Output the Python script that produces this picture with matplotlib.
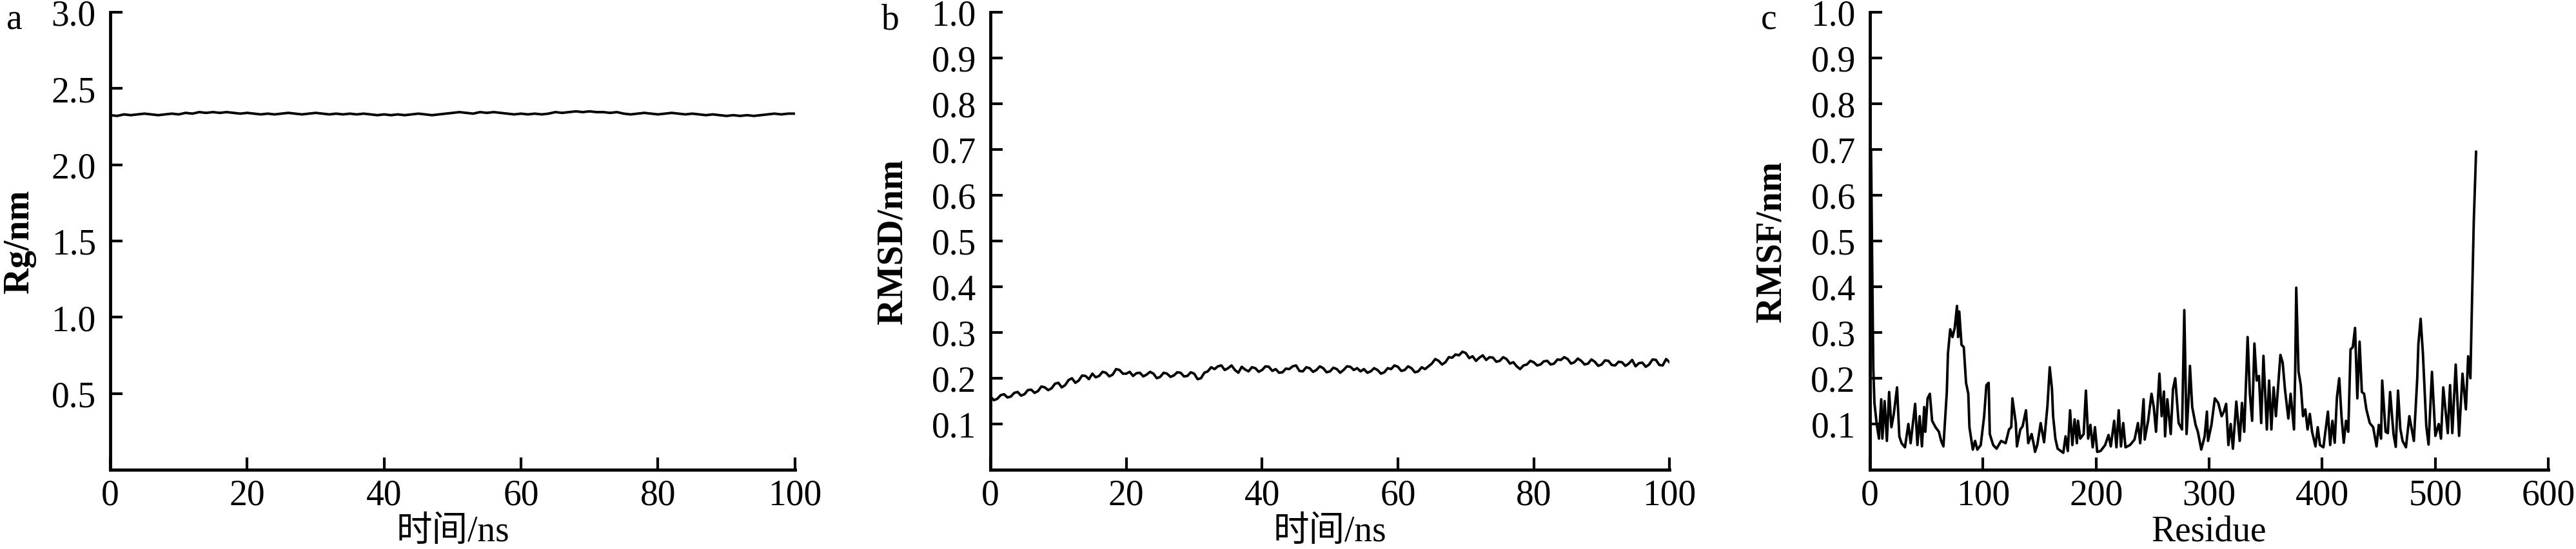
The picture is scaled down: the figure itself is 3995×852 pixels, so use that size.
import numpy as np
import matplotlib
matplotlib.use('Agg')
from matplotlib import pyplot as plt

# fonts: serif for latin text, CJK fallback for 时间
plt.rcParams['font.family'] = ['Liberation Serif', 'Noto Sans CJK SC']
plt.rcParams['font.size'] = 40

# ---- panel a : Rg over time (ns) ----
rg_time = list(range(0, 101))
rg_vals = [2.325, 2.32, 2.33, 2.325, 2.33, 2.335, 2.33, 2.325, 2.33, 2.335,
           2.33, 2.34, 2.335, 2.345, 2.34, 2.345, 2.34, 2.345, 2.34, 2.335,
           2.34, 2.335, 2.33, 2.335, 2.33, 2.335, 2.34, 2.335, 2.33, 2.335,
           2.34, 2.335, 2.33, 2.335, 2.33, 2.335, 2.33, 2.335, 2.33, 2.325,
           2.33, 2.325, 2.33, 2.325, 2.33, 2.335, 2.33, 2.325, 2.33, 2.335,
           2.34, 2.345, 2.34, 2.335, 2.345, 2.34, 2.345, 2.34, 2.335, 2.33,
           2.335, 2.33, 2.335, 2.33, 2.335, 2.345, 2.34, 2.345, 2.35, 2.345,
           2.35, 2.345, 2.345, 2.34, 2.345, 2.335, 2.33, 2.335, 2.34, 2.335,
           2.33, 2.335, 2.34, 2.335, 2.33, 2.335, 2.33, 2.325, 2.33, 2.325,
           2.32, 2.325, 2.32, 2.325, 2.32, 2.325, 2.33, 2.335, 2.33, 2.335,
           2.335]

# ---- panel b : RMSD over time (ns), every 0.5 ns ----
rmsd_time = [i * 0.5 for i in range(201)]
rmsd_vals = [0.160, 0.152, 0.155, 0.163, 0.165, 0.158, 0.160, 0.168, 0.170, 0.162,
             0.165, 0.174, 0.175, 0.168, 0.172, 0.182, 0.180, 0.174, 0.178, 0.188,
             0.190, 0.180, 0.185, 0.196, 0.200, 0.190, 0.195, 0.206, 0.205, 0.198,
             0.210, 0.202, 0.205, 0.214, 0.212, 0.204, 0.208, 0.220, 0.218, 0.210,
             0.210, 0.214, 0.205, 0.211, 0.212, 0.204, 0.208, 0.214, 0.210, 0.200,
             0.203, 0.212, 0.210, 0.203, 0.206, 0.213, 0.212, 0.204, 0.205, 0.213,
             0.210, 0.198, 0.200, 0.212, 0.215, 0.224, 0.220, 0.226, 0.228, 0.218,
             0.222, 0.228, 0.218, 0.212, 0.225, 0.219, 0.215, 0.224, 0.222, 0.214,
             0.218, 0.226, 0.225, 0.216, 0.220, 0.212, 0.213, 0.221, 0.220, 0.226,
             0.228, 0.216, 0.215, 0.224, 0.222, 0.214, 0.218, 0.226, 0.222, 0.213,
             0.215, 0.223, 0.220, 0.212, 0.218, 0.226, 0.225, 0.218, 0.222, 0.215,
             0.220, 0.212, 0.215, 0.222, 0.218, 0.210, 0.213, 0.222, 0.220, 0.228,
             0.225, 0.216, 0.218, 0.226, 0.222, 0.213, 0.215, 0.224, 0.220, 0.226,
             0.232, 0.242, 0.238, 0.230, 0.235, 0.246, 0.245, 0.252, 0.250, 0.258,
             0.255, 0.244, 0.248, 0.238, 0.245, 0.250, 0.240, 0.246, 0.245, 0.236,
             0.238, 0.246, 0.242, 0.232, 0.235, 0.226, 0.220, 0.228, 0.230, 0.238,
             0.235, 0.228, 0.230, 0.237, 0.238, 0.230, 0.232, 0.241, 0.240, 0.246,
             0.242, 0.232, 0.235, 0.243, 0.238, 0.230, 0.232, 0.241, 0.236, 0.227,
             0.230, 0.239, 0.238, 0.229, 0.228, 0.236, 0.235, 0.227, 0.232, 0.240,
             0.226, 0.233, 0.234, 0.225, 0.230, 0.241, 0.240, 0.229, 0.228, 0.242,
             0.235]

# ---- panel c : RMSF per residue ----
rmsf_res = [1, 2, 3, 4, 6, 8, 10, 11, 13, 15, 17, 19, 21, 24, 26, 28, 31, 34, 36, 40,
            42, 44, 46, 48, 49, 51, 53, 55, 58, 61, 63, 65, 68, 69, 71, 73, 75, 77, 78, 79,
            81, 83, 85, 87, 88, 91, 93, 95, 98, 101, 103, 105, 106, 109, 112, 116, 120, 123, 125, 126,
            129, 130, 133, 135, 138, 140, 143, 145, 146, 148, 151, 154, 157, 159, 161, 162, 164, 166, 171, 173,
            175, 177, 179, 181, 183, 184, 186, 189, 191, 193, 195, 197, 199, 201, 204, 208, 211, 213, 216, 218,
            220, 222, 224, 226, 230, 234, 237, 239, 242, 243, 246, 249, 251, 253, 256, 258, 260, 261, 263, 266,
            268, 270, 273, 276, 278, 280, 282, 283, 285, 288, 290, 293, 296, 298, 299, 302, 305, 308, 311, 313,
            315, 317, 319, 321, 324, 327, 329, 331, 334, 336, 338, 340, 342, 344, 346, 348, 351, 353, 355, 357,
            359, 361, 363, 365, 367, 370, 372, 375, 376, 377, 379, 381, 383, 385, 387, 389, 391, 394, 396, 398,
            401, 403, 405, 407, 409, 411, 413, 415, 417, 419, 421, 423, 425, 427, 429, 431, 433, 435, 437, 439,
            442, 445, 448, 450, 452, 453, 456, 458, 460, 463, 465, 467, 469, 471, 474, 477, 481, 484, 485, 487,
            489, 492, 494, 497, 500, 503, 505, 507, 511, 513, 515, 518, 521, 524, 527, 529, 531, 532, 534, 536]
rmsf_vals = [0.700, 0.450, 0.220, 0.146, 0.100, 0.068, 0.154, 0.068, 0.150, 0.063,
             0.170, 0.093, 0.120, 0.180, 0.073, 0.058, 0.049, 0.100, 0.058, 0.144,
             0.054, 0.117, 0.051, 0.137, 0.083, 0.156, 0.166, 0.107, 0.093, 0.083,
             0.063, 0.051, 0.170, 0.254, 0.307, 0.290, 0.310, 0.358, 0.290, 0.346,
             0.273, 0.268, 0.190, 0.166, 0.093, 0.044, 0.063, 0.044, 0.054, 0.117,
             0.185, 0.190, 0.078, 0.054, 0.046, 0.063, 0.058, 0.088, 0.093, 0.156,
             0.102, 0.051, 0.088, 0.095, 0.130, 0.058, 0.078, 0.054, 0.039, 0.054,
             0.102, 0.060, 0.140, 0.224, 0.176, 0.117, 0.068, 0.046, 0.037, 0.073,
             0.041, 0.130, 0.054, 0.110, 0.058, 0.107, 0.068, 0.078, 0.173, 0.068,
             0.098, 0.049, 0.093, 0.039, 0.041, 0.054, 0.076, 0.051, 0.107, 0.049,
             0.130, 0.051, 0.102, 0.049, 0.054, 0.066, 0.102, 0.058, 0.154, 0.066,
             0.107, 0.166, 0.137, 0.083, 0.210, 0.117, 0.171, 0.073, 0.154, 0.078,
             0.176, 0.200, 0.102, 0.088, 0.349, 0.078, 0.166, 0.227, 0.137, 0.098,
             0.083, 0.044, 0.073, 0.127, 0.063, 0.098, 0.156, 0.146, 0.117, 0.127,
             0.144, 0.054, 0.100, 0.046, 0.149, 0.063, 0.146, 0.083, 0.290, 0.166,
             0.107, 0.276, 0.195, 0.205, 0.102, 0.249, 0.088, 0.195, 0.088, 0.180,
             0.117, 0.185, 0.251, 0.234, 0.176, 0.112, 0.166, 0.088, 0.205, 0.398,
             0.215, 0.185, 0.117, 0.132, 0.088, 0.122, 0.083, 0.051, 0.093, 0.054,
             0.049, 0.088, 0.127, 0.054, 0.107, 0.059, 0.159, 0.200, 0.117, 0.059,
             0.107, 0.083, 0.263, 0.268, 0.310, 0.156, 0.280, 0.170, 0.166, 0.132,
             0.102, 0.093, 0.051, 0.098, 0.068, 0.195, 0.083, 0.080, 0.170, 0.078,
             0.050, 0.173, 0.090, 0.063, 0.049, 0.117, 0.063, 0.200, 0.275, 0.330,
             0.254, 0.095, 0.055, 0.214, 0.074, 0.100, 0.068, 0.180, 0.080, 0.185,
             0.080, 0.230, 0.074, 0.210, 0.132, 0.248, 0.200, 0.320, 0.544, 0.695]

fig = plt.figure(figsize=(39.95, 8.53), dpi=100)

bottom, height = 0.1442, 0.8324
ax_a = fig.add_axes([0.0428, bottom, 0.2658, height])
ax_b = fig.add_axes([0.3845, bottom, 0.2636, height])
ax_c = fig.add_axes([0.7259, bottom, 0.2634, height])


def style(ax, ylab, xlab, ylabx):
    for s in ['top', 'right']:
        ax.spines[s].set_visible(False)
    for s in ['left', 'bottom']:
        ax.spines[s].set_linewidth(3.5)
    ax.tick_params(direction='in', length=14, width=3, labelsize=40)
    ax.tick_params(axis='y', pad=16)
    ax.tick_params(axis='x', pad=10)
    ax.set_ylabel(ylab, fontsize=40, fontweight='bold')
    ax.yaxis.set_label_coords(ylabx, 0.5)
    ax.yaxis.label.set_va('center')
    ax.set_xlabel(xlab, fontsize=40)
    ax.xaxis.set_label_coords(0.5, -0.135)
    ax.xaxis.label.set_va('center')


# a
ax_a.plot(rg_time, rg_vals, color='black', lw=2.8)
ax_a.set_xlim(0, 100)
ax_a.set_ylim(0, 3.0)
ax_a.set_xticks([0, 20, 40, 60, 80, 100])
ax_a.set_yticks([0.5, 1.0, 1.5, 2.0, 2.5, 3.0])
ax_a.set_yticklabels(['0.5', '1.0', '1.5', '2.0', '2.5', '3.0'])
style(ax_a, 'Rg/nm', '时间/ns', -0.133)

# b
ax_b.plot(rmsd_time, rmsd_vals, color='black', lw=2.8)
ax_b.set_xlim(0, 100)
ax_b.set_ylim(0, 1.0)
ax_b.set_xticks([0, 20, 40, 60, 80, 100])
yt = [0.1, 0.2, 0.3, 0.4, 0.5, 0.6, 0.7, 0.8, 0.9, 1.0]
ax_b.set_yticks(yt)
ax_b.set_yticklabels(['%.1f' % v for v in yt])
style(ax_b, 'RMSD/nm', '时间/ns', -0.144)

# c
ax_c.plot(rmsf_res, rmsf_vals, color='black', lw=2.8)
ax_c.set_xlim(0, 600)
ax_c.set_ylim(0, 1.0)
ax_c.set_xticks([0, 100, 200, 300, 400, 500, 600])
ax_c.set_yticks(yt)
ax_c.set_yticklabels(['%.1f' % v for v in yt])
style(ax_c, 'RMSF/nm', 'Residue', -0.145)

# panel letters
fig.text(22 / 3995, 1 - 32 / 853, 'a', ha='center', va='center', fontsize=40)
fig.text(1381 / 3995, 1 - 32 / 853, 'b', ha='center', va='center', fontsize=40)
fig.text(2743 / 3995, 1 - 32 / 853, 'c', ha='center', va='center', fontsize=40)

fig.savefig('out.png', dpi=100)
